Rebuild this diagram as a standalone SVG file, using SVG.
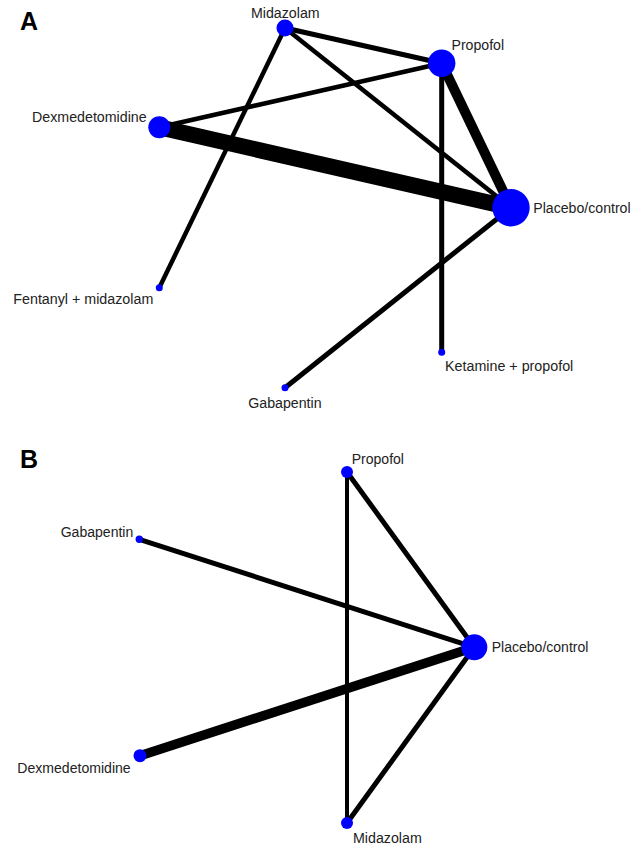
<svg xmlns="http://www.w3.org/2000/svg" width="642" height="849" viewBox="0 0 642 849">
<style>
  .bg { fill: #ffffff; }
  .edge { stroke: #000000; stroke-linecap: butt; fill: none; }
  .node { fill: #0000ff; }
  .lbl { font-family: "Liberation Sans", Arial, sans-serif; font-size: 14px; fill: #222222; }
  .panel { font-family: "Liberation Sans", Arial, sans-serif; font-size: 25px; font-weight: bold; fill: #000000; }
</style>
<rect class="bg" x="0" y="0" width="642" height="849"/>

<text id="panel-A" class="panel" x="20" y="29.5">A</text>
<text id="panel-B" class="panel" x="20" y="468">B</text>

<g id="connectors">
  <!-- Panel A -->
  <line class="edge" x1="285" y1="28" x2="441.7" y2="63.3" stroke-width="5"/>
  <line class="edge" x1="285" y1="28" x2="511" y2="207.7" stroke-width="4.5"/>
  <line class="edge" x1="285" y1="28" x2="159.3" y2="287.7" stroke-width="4.5"/>
  <line class="edge" x1="159.3" y1="127.3" x2="441.7" y2="63.3" stroke-width="4.5"/>
  <line class="edge" x1="159.3" y1="127.3" x2="511" y2="207.7" stroke-width="16"/>
  <line class="edge" x1="441.7" y1="63.3" x2="511" y2="207.7" stroke-width="10"/>
  <line class="edge" x1="441.7" y1="63.3" x2="441.7" y2="352.3" stroke-width="5"/>
  <line class="edge" x1="511" y1="207.7" x2="285" y2="387.7" stroke-width="5"/>
  <!-- Panel B -->
  <line class="edge" x1="347" y1="472" x2="347" y2="823" stroke-width="4"/>
  <line class="edge" x1="347" y1="472" x2="474.3" y2="647.3" stroke-width="5"/>
  <line class="edge" x1="139.3" y1="539.3" x2="474.3" y2="647.3" stroke-width="5"/>
  <line class="edge" x1="140" y1="755.7" x2="474.3" y2="647.3" stroke-width="9.5"/>
  <line class="edge" x1="347" y1="823" x2="474.3" y2="647.3" stroke-width="5"/>
</g>

<!-- Panel A nodes -->
<g id="A-midazolam">
  <circle class="node" cx="285" cy="28" r="8.5"/>
  <text class="lbl" x="251" y="17.5" textLength="68.6" lengthAdjust="spacingAndGlyphs">Midazolam</text>
</g>
<g id="A-propofol">
  <circle class="node" cx="441.7" cy="63.3" r="13.7"/>
  <text class="lbl" x="451.5" y="49.5" textLength="52.6" lengthAdjust="spacingAndGlyphs">Propofol</text>
</g>
<g id="A-dexmedetomidine">
  <circle class="node" cx="159.3" cy="127.3" r="11"/>
  <text class="lbl" x="32" y="121.7" textLength="114.7" lengthAdjust="spacingAndGlyphs">Dexmedetomidine</text>
</g>
<g id="A-placebo">
  <circle class="node" cx="511" cy="207.7" r="18.7"/>
  <text class="lbl" x="533.3" y="212.7" textLength="97.3" lengthAdjust="spacingAndGlyphs">Placebo/control</text>
</g>
<g id="A-fentanyl-midazolam">
  <circle class="node" cx="159.3" cy="287.7" r="3.5"/>
  <text class="lbl" x="13.3" y="304.3" textLength="140" lengthAdjust="spacingAndGlyphs">Fentanyl + midazolam</text>
</g>
<g id="A-ketamine-propofol">
  <circle class="node" cx="441.7" cy="352.3" r="3.5"/>
  <text class="lbl" x="445" y="371" textLength="128.3" lengthAdjust="spacingAndGlyphs">Ketamine + propofol</text>
</g>
<g id="A-gabapentin">
  <circle class="node" cx="285" cy="387.7" r="3.5"/>
  <text class="lbl" x="248.3" y="407.7" textLength="73.3" lengthAdjust="spacingAndGlyphs">Gabapentin</text>
</g>

<!-- Panel B nodes -->
<g id="B-propofol">
  <circle class="node" cx="347" cy="472" r="6"/>
  <text class="lbl" x="351.7" y="464" textLength="52.3" lengthAdjust="spacingAndGlyphs">Propofol</text>
</g>
<g id="B-gabapentin">
  <circle class="node" cx="139.3" cy="539.3" r="3.7"/>
  <text class="lbl" x="60.7" y="536.7" textLength="72.6" lengthAdjust="spacingAndGlyphs">Gabapentin</text>
</g>
<g id="B-placebo">
  <circle class="node" cx="474.3" cy="647.3" r="13"/>
  <text class="lbl" x="491.7" y="652.3" textLength="96.7" lengthAdjust="spacingAndGlyphs">Placebo/control</text>
</g>
<g id="B-dexmedetomidine">
  <circle class="node" cx="140" cy="755.7" r="6.5"/>
  <text class="lbl" x="17.3" y="773.3" textLength="113.4" lengthAdjust="spacingAndGlyphs">Dexmedetomidine</text>
</g>
<g id="B-midazolam">
  <circle class="node" cx="347" cy="823" r="6"/>
  <text class="lbl" x="353" y="843.3" textLength="68.8" lengthAdjust="spacingAndGlyphs">Midazolam</text>
</g>
</svg>
